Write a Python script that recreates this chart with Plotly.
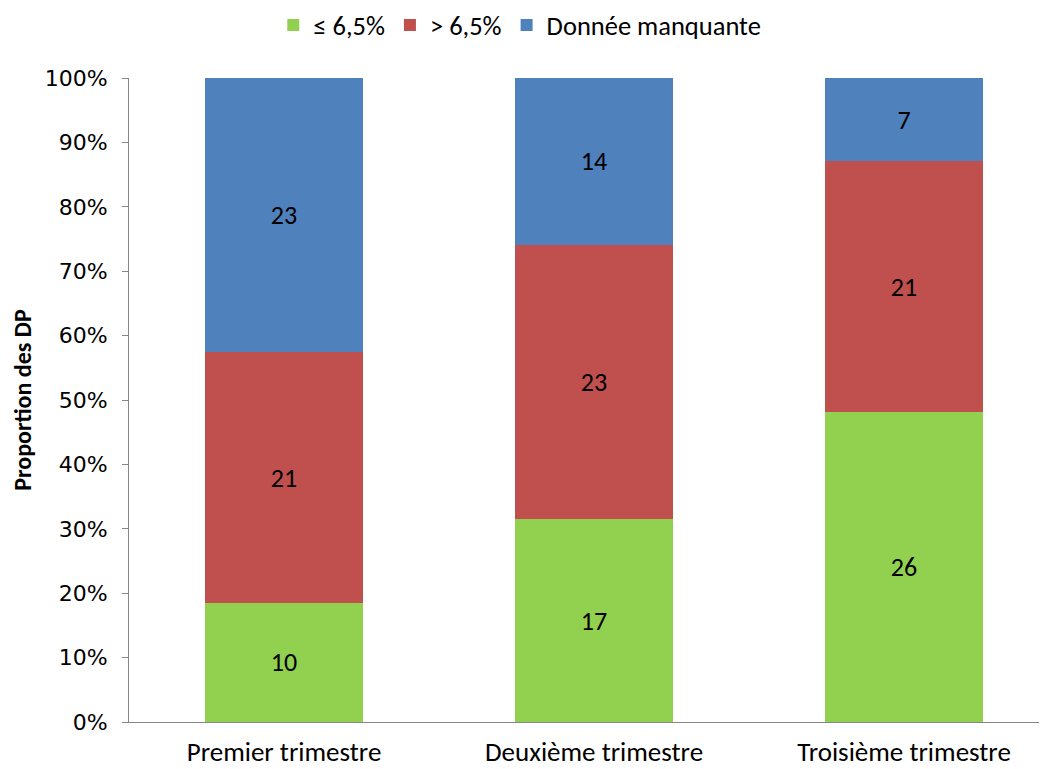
import plotly.graph_objects as go

categories = ["Premier trimestre", "Deuxième trimestre", "Troisième trimestre"]
series_names = ["≤ 6,5%", "> 6,5%", "Donnée manquante"]
low = [10, 17, 26]
high = [21, 23, 21]
missing = [23, 14, 7]
colors = ["#92D050", "#C0504D", "#4F81BD"]
y_ticks = [0, 10, 20, 30, 40, 50, 60, 70, 80, 90, 100]
y_ticklabels = [f"{v}%" for v in y_ticks]

FONT = "Carlito, Lato, 'Liberation Sans', Arial"

fig = go.Figure()
for name, vals, col in zip(series_names, [low, high, missing], colors):
    fig.add_trace(go.Bar(
        x=categories, y=vals, name=name, marker=dict(color=col, line=dict(width=0)),
        text=[str(v) for v in vals], textposition="inside", insidetextanchor="middle",
        textfont=dict(family=FONT, size=26, color="black"), width=0.51,
        constraintext="none",
    ))

fig.update_layout(
    barmode="stack", barnorm="percent",
    width=1047, height=769,
    margin=dict(l=121, r=0, t=70, b=55, autoexpand=False),
    plot_bgcolor="white", paper_bgcolor="white",
    font=dict(family=FONT, size=24, color="black"),
    legend=dict(orientation="h", x=0.422, xref="paper", xanchor="center",
                y=1.082, yanchor="middle",
                font=dict(family=FONT, size=26.5), traceorder="normal"),
    xaxis=dict(range=[-0.5, 2.487], showline=True, linecolor="#868686", linewidth=1,
               ticks="", tickfont=dict(family=FONT, size=27), automargin=False,
               ticklabelstandoff=6),
    yaxis=dict(range=[0, 100], tickvals=y_ticks, ticktext=y_ticklabels, showgrid=False,
               showline=True, linecolor="#868686", linewidth=1, ticks="outside",
               ticklen=6, tickcolor="#868686", zeroline=False, automargin=False,
               ticklabelstandoff=10,
               tickfont=dict(family="Verdana, 'DejaVu Sans'", size=22),
               title=dict(text="<b>Proportion des DP</b>", font=dict(family=FONT, size=24), standoff=14)),
)

fig.write_html("out.html")
